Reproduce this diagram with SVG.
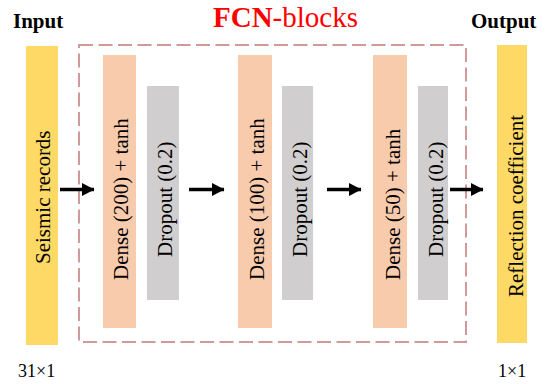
<svg xmlns="http://www.w3.org/2000/svg" width="549" height="384" viewBox="0 0 549 384">
<style>
text{font-family:"Liberation Serif","Times New Roman",serif;fill:#000}
.title{font-size:21px;font-weight:bold}
.lbl{font-size:21px;font-family:"Liberation Serif","Times New Roman",serif}
.dim{font-size:18px}
.io{fill:#FFD966}
.dense{fill:#F8CBAD}
.drop{fill:#D0CECE}
.conn line{stroke:#000;stroke-width:3.5}
</style>
<defs>
<marker id="ah" markerUnits="userSpaceOnUse" markerWidth="13" markerHeight="13" refX="12" refY="6.5" orient="auto">
<path d="M0,0 L12.5,6.5 L0,13 Z" fill="#000"/>
</marker>
</defs>
<rect width="549" height="384" fill="#fff"/>
<text class="title" x="13" y="28">Input</text>
<text x="285.5" y="27" text-anchor="middle" style="font-size:29px;fill:#FF0000"><tspan font-weight="bold" style="fill:#FF0000">FCN</tspan><tspan style="fill:#FF0000">-blocks</tspan></text>
<text class="title" x="471" y="28">Output</text>
<g id="fcn-blocks">
<rect x="79" y="45" width="387" height="297" fill="none" stroke="#D09A9A" stroke-width="2" stroke-dasharray="14 5.5"/>
</g>
<g id="input">
<rect class="io" x="26" y="46" width="32" height="299"/>
<text class="lbl" font-family="Liberation Serif, serif" transform="translate(50,264) rotate(-90)">Seismic records</text>
</g>
<g id="dense1">
<rect class="dense" x="103" y="55" width="33" height="273"/>
<text class="lbl" font-family="Liberation Serif, serif" transform="translate(127.5,280) rotate(-90)">Dense (200) + tanh</text>
</g>
<g id="dropout1">
<rect class="drop" x="147" y="86" width="32" height="214"/>
<text class="lbl" font-family="Liberation Serif, serif" transform="translate(172,257) rotate(-90)">Dropout (0.2)</text>
</g>
<g id="dense2">
<rect class="dense" x="238" y="55" width="34" height="273"/>
<text class="lbl" font-family="Liberation Serif, serif" transform="translate(263.5,280) rotate(-90)">Dense (100) + tanh</text>
</g>
<g id="dropout2">
<rect class="drop" x="282" y="86" width="31" height="214"/>
<text class="lbl" font-family="Liberation Serif, serif" transform="translate(307,257) rotate(-90)">Dropout (0.2)</text>
</g>
<g id="dense3">
<rect class="dense" x="373" y="55" width="34" height="273"/>
<text class="lbl" font-family="Liberation Serif, serif" transform="translate(400,280) rotate(-90)">Dense (50) + tanh</text>
</g>
<g id="dropout3">
<rect class="drop" x="418" y="86" width="30" height="214"/>
<text class="lbl" font-family="Liberation Serif, serif" transform="translate(443,257) rotate(-90)">Dropout (0.2)</text>
</g>
<g id="output">
<rect class="io" x="497" y="45" width="30" height="298"/>
<text class="lbl" font-family="Liberation Serif, serif" transform="translate(522.5,297) rotate(-90)">Reflection coefficient</text>
</g>
<g class="conn" id="connectors">
<line x1="60" y1="189.5" x2="94" y2="189.5" marker-end="url(#ah)"/>
<line x1="189" y1="189.5" x2="224" y2="189.5" marker-end="url(#ah)"/>
<line x1="327" y1="189.5" x2="361" y2="189.5" marker-end="url(#ah)"/>
<line x1="450" y1="189.5" x2="483" y2="189.5" marker-end="url(#ah)"/>
</g>
<text class="dim" x="18" y="377">31×1</text>
<text class="dim" x="498" y="377">1×1</text>
</svg>
